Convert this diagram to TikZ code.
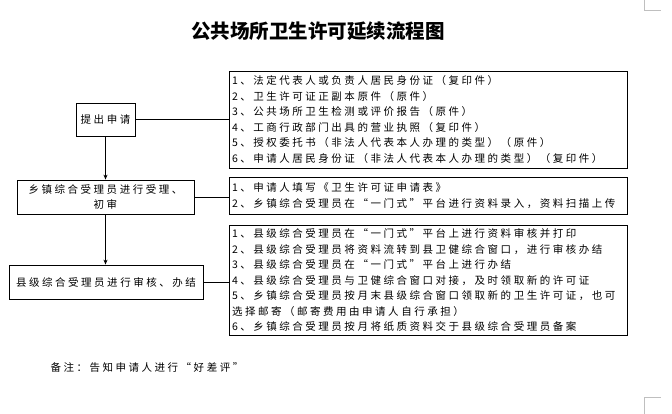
\documentclass[tikz,border=0pt]{standalone}
\usepackage{fontspec}
\setmainfont{Noto Sans CJK SC}[LetterSpace=24]
\newfontfamily\titlefont{Noto Sans CJK SC}
\usetikzlibrary{arrows.meta}
\begin{document}
\begin{tikzpicture}[x=1pt,y=-1pt,
        box/.style={draw, line width=0.8pt, inner sep=0pt, align=center,
            font=\fontsize{10.5}{15}\selectfont},
        list/.style={draw, line width=0.8pt, inner xsep=3pt, inner ysep=0pt,
            align=left, text width=392pt, font=\fontsize{10.5}{15.5}\selectfont},
        flow/.style={-{Stealth[length=5pt,width=4pt]}, line width=0.7pt},
        link/.style={line width=0.7pt}]
    \useasboundingbox (0,0) rectangle (672,414);
    \draw[gray!50] (644,0) -- (644,10) -- (661,10);
    \draw[gray!50] (644,414) -- (644,397) -- (661,397);

    \node (title) at (318,31) {\titlefont\bfseries\fontsize{19.5}{21}\selectfont 公共场所卫生许可延续流程图};

    % left column
    \node[box, minimum width=59pt, minimum height=33pt] (apply) at (105.5,119.5) {提出申请};
    \node[box, minimum width=177pt, minimum height=34pt] (town) at (105.5,197) {乡镇综合受理员进行受理、\\初审};
    \node[box, minimum width=194pt, minimum height=34pt] (county) at (106,282) {县级综合受理员进行审核、办结};

    % right column
    \node[list, minimum height=97pt] (docs) at (428,119.5) {1、法定代表人或负责人居民身份证（复印件）\\
        2、卫生许可证正副本原件（原件）\\
        3、公共场所卫生检测或评价报告（原件）\\
        4、工商行政部门出具的营业执照（复印件）\\
        5、授权委托书（非法人代表本人办理的类型）（原件）\\
        6、申请人居民身份证（非法人代表本人办理的类型）（复印件）};
    \node[list, minimum height=37pt] (entry) at (428,195.5) {1、申请人填写《卫生许可证申请表》\\
        2、乡镇综合受理员在“一门式”平台进行资料录入，资料扫描上传};
    \node[list, minimum height=110pt] (finish) at (428,280) {1、县级综合受理员在“一门式”平台上进行资料审核并打印\\
        2、县级综合受理员将资料流转到县卫健综合窗口，进行审核办结\\
        3、县级综合受理员在“一门式”平台上进行办结\\
        4、县级综合受理员与卫健综合窗口对接，及时领取新的许可证\\
        5、乡镇综合受理员按月末县级综合窗口领取新的卫生许可证，也可\\
        选择邮寄（邮寄费用由申请人自行承担）\\
        6、乡镇综合受理员按月将纸质资料交于县级综合受理员备案};

    \draw[flow] (apply) -- (town);
    \draw[flow] (town) -- (town.south |- county.north);
    \draw[link] (apply) -- (docs);
    \draw[link] (town.east) -- (town.east -| entry.west);
    \draw[link] (county.east) -- (county.east -| finish.west);

    \node[anchor=west, font=\fontsize{10.5}{12}\selectfont] (note) at (47,368) {备注：告知申请人进行“好差评”};
\end{tikzpicture}
\end{document}
